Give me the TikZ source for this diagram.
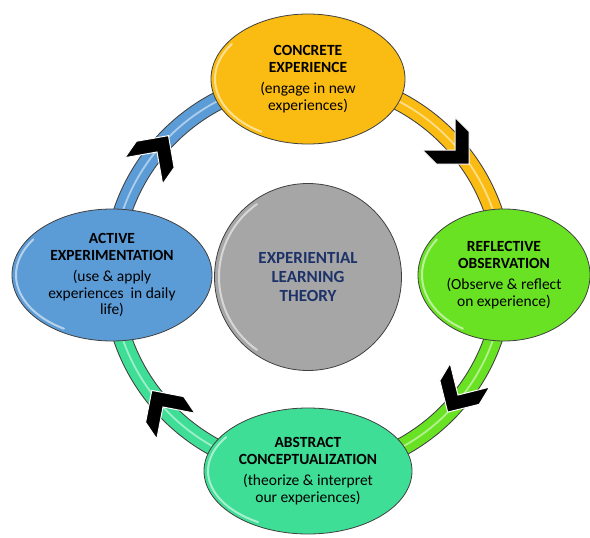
\documentclass[tikz,border=0pt]{standalone}
\usepackage{fontspec}
\setmainfont{Carlito}
\usetikzlibrary{shapes.geometric,backgrounds}

\definecolor{ceOrange}{RGB}{250,187,18}
\definecolor{roGreen}{RGB}{104,226,34}
\definecolor{acTeal}{RGB}{62,222,150}
\definecolor{aeBlue}{RGB}{92,156,214}
\definecolor{coreGray}{RGB}{166,166,166}
\definecolor{titleNavy}{RGB}{28,50,104}
\definecolor{rimDark}{RGB}{64,64,64}

\tikzset{
  chevron/.pic={
    \filldraw[chevronink] (0,0) -- (-23,23) -- (-3,23) -- (20,0)
      -- (-3,-23) -- (-23,-23) -- cycle;
  }
}

\begin{document}
\begin{tikzpicture}[x=1pt,y=-1pt,
  stage/.style={ellipse, draw=rimDark, line width=0.8pt, inner sep=0pt,
    align=center, text=black, font=\fontsize{15.5}{16.5}\selectfont},
  core/.style={circle, draw=rimDark, line width=0.8pt, fill=coreGray,
    inner sep=0pt, minimum size=187pt, align=center, text=titleNavy,
    font=\fontsize{17}{19}\selectfont},
  band/.style={line width=17pt,
    preaction={draw=rimDark, line width=19pt},
    postaction={draw=white, opacity=0.5, line width=1.8pt}},
  chevronink/.style={fill=black, draw=white, line width=1pt, line join=miter},
  gloss/.style={draw=white, opacity=0.55, line width=2pt, line cap=round},
]
\useasboundingbox (0,0) rectangle (590,538);

% the four stages of the cycle
\node[stage, fill=ceOrange, minimum width=194pt, minimum height=130pt] (ce) at (308,79)
  {{\bfseries CONCRETE}\\{\bfseries EXPERIENCE}\\[5pt](engage in new\\experiences)};
\node[stage, fill=roGreen, minimum width=172pt, minimum height=132pt] (ro) at (504,275)
  {{\bfseries REFLECTIVE}\\{\bfseries OBSERVATION}\\[5pt](Observe \& reflect\\on experience)};
\node[stage, fill=acTeal, minimum width=208pt, minimum height=126pt] (ac) at (308,471)
  {{\bfseries ABSTRACT}\\{\bfseries CONCEPTUALIZATION}\\[5pt](theorize \& interpret\\our experiences)};
\node[stage, fill=aeBlue, minimum width=200pt, minimum height=132pt] (ae) at (112,275)
  {{\bfseries ACTIVE}\\{\bfseries EXPERIMENTATION}\\[5pt](use \& apply\\experiences\ \ in daily\\life)};

% the theory in the middle
\node[core] (elt) at (308,277)
  {{\bfseries EXPERIENTIAL}\\{\bfseries LEARNING}\\{\bfseries THEORY}};

% soft highlights along the rims
\draw[gloss] (ce.center) ++(120:93 and 61) arc[start angle=120, end angle=215, x radius=93, y radius=61];
\draw[gloss] (ro.center) ++(120:82 and 62) arc[start angle=120, end angle=215, x radius=82, y radius=62];
\draw[gloss] (ac.center) ++(120:100 and 59) arc[start angle=120, end angle=215, x radius=100, y radius=59];
\draw[gloss] (ae.center) ++(120:96 and 62) arc[start angle=120, end angle=215, x radius=96, y radius=62];
\draw[gloss] (elt.center) ++(125:89) arc[start angle=125, end angle=235, radius=89];

% ring segments joining the stages, with direction chevrons
\begin{scope}[on background layer]
  \draw[band, draw=ceOrange] (ce.center) arc[start angle=-90, end angle=0, radius=196];
  \draw[band, draw=roGreen]  (ro.center) arc[start angle=0, end angle=90, radius=196];
  \draw[band, draw=acTeal]   (ac.center) arc[start angle=90, end angle=180, radius=196];
  \draw[band, draw=aeBlue]   (ae.center) arc[start angle=180, end angle=270, radius=196];

  \pic[rotate=-45]  at (455,150) {chevron};
  \pic[rotate=-121] at (458,395) {chevron};
  \pic[rotate=124]  at (163,407) {chevron};
  \pic[rotate=55]   at (157,152) {chevron};
\end{scope}
\end{tikzpicture}
\end{document}
